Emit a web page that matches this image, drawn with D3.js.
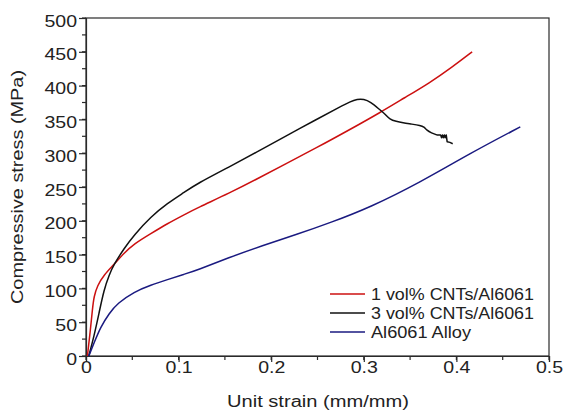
<!DOCTYPE html>
<html><head><meta charset="utf-8">
<script src="https://cdn.jsdelivr.net/npm/d3@7"></script>
<style>body{margin:0;background:#fff}svg{display:block}text{font-family:"Liberation Sans",Arial,sans-serif;fill:#222}</style>
</head><body><svg id="c" width="565" height="414"></svg>
<script>
const seriesNames = ["1 vol% CNTs/Al6061", "3 vol% CNTs/Al6061", "Al6061 Alloy"];
const seriesColors = ["#cc1010", "#111111", "#1a1a80"];
const redStrain = [0.0015,0.0045,0.007,0.0086,0.0122,0.0194,0.030,0.041,0.052,0.070,0.088,0.106,0.12,0.155,0.185,0.215,0.249,0.285,0.3175,0.344,0.371,0.395,0.417];
const redStress = [0,35,70,88,104,120,135,152,166,181,196,209,219,241,262,284,308,335,360,382,404,427,450];
const blackStrain = [0.003,0.0086,0.014,0.0194,0.025,0.030,0.041,0.052,0.070,0.088,0.106,0.12,0.155,0.185,0.21,0.249,0.275,0.285,0.293,0.3,0.307,0.3175,0.323,0.328,0.335,0.342,0.352,0.361,0.365,0.368,0.373,0.379,0.383,0.384,0.385,0.386,0.387,0.388,0.389,0.39,0.393,0.396];
const blackStress = [0,29,63,98,120,135,159,179,206,226,242,255,280,302,321,350,369,376,380,380,376,364,358,350,347,345,343,341,339,334,330,327,327,323,327,323,327,323,327,317,316,314];
const blueStrain = [0.003,0.0086,0.0158,0.025,0.034,0.052,0.070,0.088,0.106,0.12,0.155,0.19,0.228,0.2635,0.307,0.361,0.415,0.469];
const blueStress = [0,19,43,63,78,95,105,113,121,127,146,163,180,197,220,257,300,339];
const xTicks = [0,0.1,0.2,0.3,0.4,0.5];
const yTicks = [0,50,100,150,200,250,300,350,400,450,500];

const svg = d3.select("#c");
const x = d3.scaleLinear().domain([0,0.5]).range([86,549]);
const y = d3.scaleLinear().domain([0,500]).range([356,18]);
const axisColor = "#2a2a2a";
const stretch = 1.22;
function widen(sel, k){ sel.each(function(){ const w=this.getComputedTextLength(); d3.select(this).attr("textLength", w*k).attr("lengthAdjust","spacingAndGlyphs"); }); }

// frame
svg.append("rect").attr("x",86).attr("y",18).attr("width",463).attr("height",338)
  .attr("fill","none").attr("stroke",axisColor).attr("stroke-width",1.2);

// minor ticks
const xMinor = d3.range(0,0.5001,0.05);
svg.selectAll(".xm").data(xMinor).enter().append("line")
  .attr("x1",d=>x(d)).attr("x2",d=>x(d)).attr("y1",356).attr("y2",360)
  .attr("stroke",axisColor).attr("stroke-width",1.2);
const yMinor = d3.range(0,501,25);
svg.selectAll(".ym").data(yMinor).enter().append("line")
  .attr("x1",82).attr("x2",86).attr("y1",d=>y(d)).attr("y2",d=>y(d))
  .attr("stroke",axisColor).attr("stroke-width",1.2);

// axes
const xAxis = d3.axisBottom(x).tickValues(xTicks).tickFormat(d=>d===0?"0":d3.format(".1f")(d)).tickSize(6).tickPadding(0);
const gx = svg.append("g").attr("transform","translate(0,356)").call(xAxis);
const yAxis = d3.axisLeft(y).tickValues(yTicks).tickSize(7).tickPadding(2);
const gy = svg.append("g").attr("transform","translate(86,0)").call(yAxis);
[gx,gy].forEach(g=>{
  g.select(".domain").attr("stroke",axisColor).attr("stroke-width",1.2);
  g.selectAll(".tick line").attr("stroke",axisColor).attr("stroke-width",1.2);
  g.selectAll(".tick text").attr("font-size",16).attr("font-family","Liberation Sans, Arial, sans-serif").attr("fill","#222");
});
gy.selectAll(".tick text").attr("dy","0.5em");
widen(gx.selectAll(".tick text"), stretch);
widen(gy.selectAll(".tick text"), stretch);

// titles
svg.append("text").attr("x",318).attr("y",407).attr("text-anchor","middle").attr("font-size",16)
  .attr("textLength",182).attr("lengthAdjust","spacingAndGlyphs").text("Unit strain (mm/mm)");
svg.append("text").attr("transform","translate(23,187) rotate(-90)").attr("text-anchor","middle").attr("font-size",16)
  .attr("textLength",234).attr("lengthAdjust","spacingAndGlyphs").text("Compressive stress (MPa)");

// curves
const smooth = d3.line().x(d=>x(d[0])).y(d=>y(d[1])).curve(d3.curveBasis);
const straight = d3.line().x(d=>x(d[0])).y(d=>y(d[1])).curve(d3.curveLinear);
function draw(pts, color, path){
  svg.append("path").datum(pts).attr("d",path).attr("fill","none")
    .attr("stroke",color).attr("stroke-width",1.5).attr("stroke-linejoin","round");
}
draw(d3.zip(redStrain, redStress), seriesColors[0], smooth);
const blackPts = d3.zip(blackStrain, blackStress);
const tailStart = blackStrain.indexOf(0.379);
draw(blackPts.slice(0, tailStart+1), seriesColors[1], smooth);
draw(blackPts.slice(tailStart), seriesColors[1], straight);
draw(d3.zip(blueStrain, blueStress), seriesColors[2], smooth);

// legend
const legendLens = [163,163,100];
const lg = svg.append("g");
seriesNames.forEach((n,i)=>{
  const yy = 294 + i*19;
  lg.append("line").attr("x1",330).attr("x2",365).attr("y1",yy).attr("y2",yy).attr("stroke",seriesColors[i]).attr("stroke-width",1.5);
  lg.append("text").attr("x",371).attr("y",yy+5.8).attr("font-size",16)
    .attr("textLength",legendLens[i]).attr("lengthAdjust","spacingAndGlyphs").text(n);
});
</script></body></html>
